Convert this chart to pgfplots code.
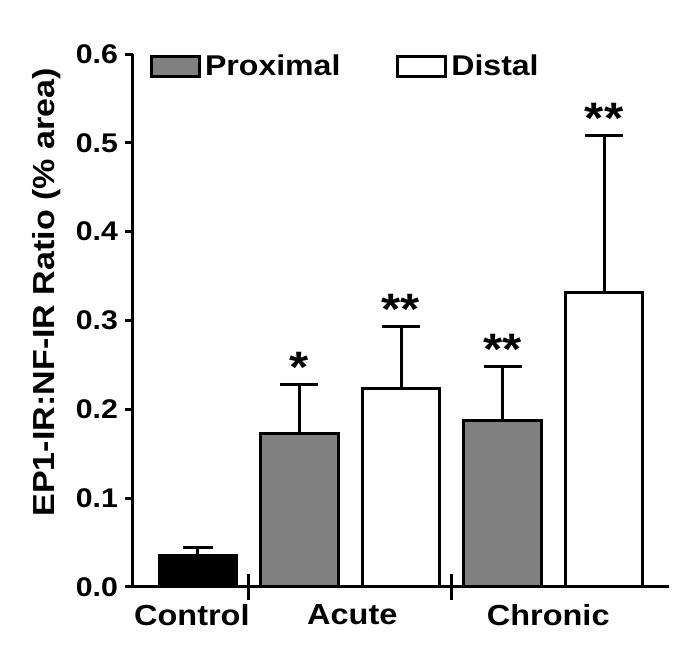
\documentclass[border=0pt]{standalone}
\usepackage{fontspec}
\setmainfont{Liberation Sans}[FakeStretch=1.12]
\usepackage{pgfplots}
\pgfplotsset{compat=1.18}

\begin{document}
\bfseries
\begin{tikzpicture}
\begin{axis}[
  name=ax,
  scale only axis,
  width=268pt, height=266.5pt,
  xmin=-0.64, xmax=4.64,
  ymin=0, ymax=0.6,
  axis lines=left,
  axis line style={-, line width=1.5pt},
  every tick/.style={black, line width=1.5pt},
  /pgf/number format/fixed,
  /pgf/number format/fixed zerofill,
  /pgf/number format/precision=1,
  /pgf/number format/assume math mode=true,
  tick label style={font=\fontsize{13.5}{15}\selectfont\bfseries},
  % group separators are the real x ticks
  tick align=center,
  major tick length=13pt,
  xtick={0.5,2.5},
  xticklabels={},
  ytick=\empty,
  % group names and y values as extra ticks
  extra x ticks={-0.06,1.52,3.45},
  extra x tick labels={Control,Acute,Chronic},
  extra x tick style={major tick length=0pt,
    tick label style={yshift=-5pt, font=\fontsize{14.5}{16}\selectfont\bfseries}},
  extra y ticks={0,0.1,0.2,0.3,0.4,0.5,0.6},
  extra y tick style={tick align=outside, major tick length=4pt},
  ylabel={EP1-IR:NF-IR Ratio (\% area)},
  ylabel style={font=\fontsize{15.2}{17}\selectfont\bfseries,
    at={(axis description cs:-0.162,0.553)}, anchor=center},
  legend style={draw=none, fill=none, at={(rel axis cs:0.02,1.015)}, anchor=north west,
    legend columns=2, font=\fontsize{14.3}{16}\selectfont\bfseries,
    /tikz/every even column/.append style={column sep=26pt}},
  legend image code/.code={\draw[#1, line width=1.5pt] (0pt,-5pt) rectangle (24pt,5pt);},
  error bars/y dir=plus,
  error bars/y explicit,
  error bars/error bar style={line width=1.5pt, black},
]
\addplot[ybar, bar width=0.76, bar shift=0, fill=black, draw=black, line width=1.5pt, forget plot,
  error bars/error mark options={rotate=90, mark size=7.5pt, line width=1.5pt}]
  coordinates {(0,0.035) +- (0,0.0097)};
\addplot[ybar, bar width=0.76, bar shift=0, fill=gray, draw=black, line width=1.5pt,
  error bars/error mark options={rotate=90, mark size=9.5pt, line width=1.5pt}]
  coordinates {(1,0.173) +- (0,0.055) (3,0.187) +- (0,0.061)};
\addlegendentry{Proximal}
\addplot[ybar, bar width=0.76, bar shift=0, fill=white, draw=black, line width=1.5pt,
  error bars/error mark options={rotate=90, mark size=9.5pt, line width=1.5pt}]
  coordinates {(2,0.224) +- (0,0.069) (4,0.331) +- (0,0.177)};
\addlegendentry{Distal}
\addplot[draw=none, mark=none, forget plot, nodes near coords, point meta=explicit symbolic,
  every node near coord/.append style={font=\fontsize{22}{24}\selectfont\bfseries, anchor=south, inner sep=0pt, yshift=1pt}]
  coordinates {(1,0.228)[*] (2,0.293)[**] (3,0.248)[**] (4,0.508)[**]};
\end{axis}
% blank margins of the reference
\path (ax.south west) ++(-66.5pt,-34.5pt);
\path (ax.north east) ++(8pt,27pt);
\end{tikzpicture}
\end{document}
